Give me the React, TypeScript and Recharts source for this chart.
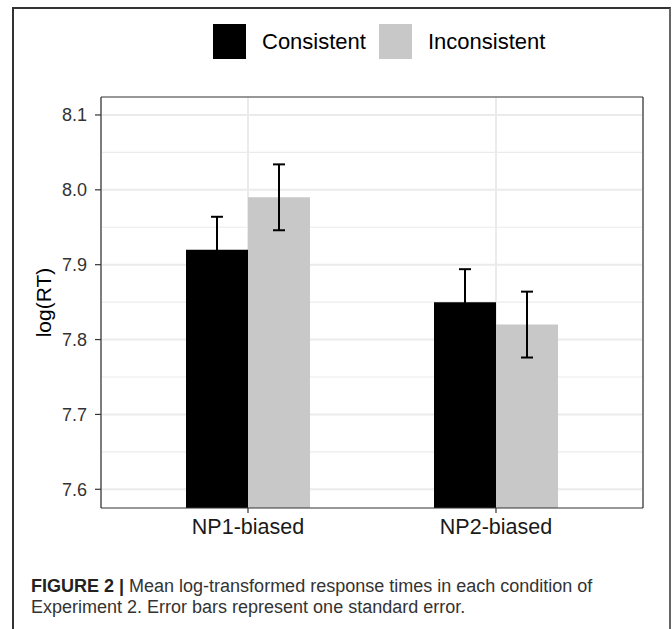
import React from 'react';
import { BarChart, Bar, XAxis, YAxis, CartesianGrid, ErrorBar, Legend } from 'recharts';

const conditions = ['NP1-biased', 'NP2-biased'];
const consistentMeans = [7.92, 7.85];
const inconsistentMeans = [7.99, 7.82];
const consistentSE = [0.044, 0.044];
const inconsistentSE = [0.044, 0.044];
const seriesNames = ['Consistent', 'Inconsistent'];
const seriesColors = ['#000000', '#C8C8C8'];
const yTicks = [7.6, 7.7, 7.8, 7.9, 8.0, 8.1];
const yMinor = [7.65, 7.75, 7.85, 7.95, 8.05];
const yDomain = [7.575, 8.124];
const yLabel = 'log(RT)';
const captionBold = 'FIGURE 2 |';
const captionLine1 = ' Mean log-transformed response times in each condition of';
const captionLine2 = 'Experiment 2. Error bars represent one standard error.';

const data = conditions.map((c, i) => ({
  condition: c,
  consistent: consistentMeans[i],
  inconsistent: inconsistentMeans[i],
  consistentErr: consistentSE[i],
  inconsistentErr: inconsistentSE[i],
}));

const FONT = "'Liberation Sans', Arial, Helvetica, sans-serif";

const LegendContent = (props: any) => {
  const payload = props.payload || [];
  return (
    <div style={{ height: 87, width: 672, position: 'relative', fontFamily: FONT }}>
      <div style={{ position: 'absolute', left: 213, top: 14, display: 'flex', alignItems: 'center' }}>
        {payload.map((p: any, i: number) => (
          <div key={i} style={{ display: 'flex', alignItems: 'center' }}>
            <div style={{ width: 33, height: 35, background: p.color, marginRight: 16 }} />
            <span style={{ fontSize: 22, color: '#000', marginRight: 13, lineHeight: '35px' }}>{p.value}</span>
          </div>
        ))}
      </div>
    </div>
  );
};

const YLabel = (props: any) => {
  const vb = props.viewBox || {};
  const cx = vb.x + 2;
  const cy = vb.y + vb.height / 2;
  return (
    <text
      x={cx}
      y={cy}
      transform={`rotate(-90, ${cx}, ${cy})`}
      textAnchor="middle"
      dominantBaseline="central"
      fontSize={21}
      fill="#000"
      fontFamily={FONT}
    >
      {yLabel}
    </text>
  );
};

export default function App() {
  return (
    <div style={{ position: 'absolute', left: 0, top: 0, width: 672, height: 629, background: '#fff', overflow: 'hidden' }}>
      <div
        style={{
          position: 'absolute',
          left: 12,
          top: 7,
          width: 655,
          height: 660,
          borderLeft: '2px solid #333',
          borderTop: '2px solid #333',
          borderRight: '2px solid #666',
        }}
      />
      <div style={{ position: 'absolute', left: 0, top: 0 }}>
        <BarChart
          width={672}
          height={629}
          data={data}
          margin={{ top: 9, right: 28, bottom: 81, left: 41 }}
          barCategoryGap={62}
          barGap={0}
          style={{ fontFamily: FONT }}
        >
          <CartesianGrid horizontalValues={yMinor} vertical={false} stroke="#EBEBEB" strokeWidth={1.2} />
          <CartesianGrid horizontalValues={yTicks} stroke="#EBEBEB" strokeWidth={2} />
          <Legend verticalAlign="top" align="left" content={<LegendContent />} wrapperStyle={{ left: 0, top: 10, width: 672 }} />
          <XAxis
            dataKey="condition"
            height={40}
            padding={{ left: 23, right: 23 }}
            tickSize={5}
            tickMargin={6}
            tick={{ fontSize: 21.5, fill: '#1a1a1a' }}
            tickLine={{ stroke: '#333', strokeWidth: 1.2 }}
            axisLine={{ stroke: '#333', strokeWidth: 1.2 }}
            interval={0}
          />
          <XAxis
            xAxisId="top"
            orientation="top"
            dataKey="condition"
            height={1}
            tick={false}
            tickLine={false}
            axisLine={{ stroke: '#333', strokeWidth: 1.2 }}
          />
          <YAxis
            type="number"
            domain={yDomain}
            allowDataOverflow
            ticks={yTicks}
            interval={0}
            width={60}
            tickSize={6}
            tickMargin={8}
            tickFormatter={(v: number) => v.toFixed(1)}
            tick={{ fontSize: 18, fill: '#333' }}
            tickLine={{ stroke: '#333', strokeWidth: 1.2 }}
            axisLine={{ stroke: '#333', strokeWidth: 1.2 }}
            label={<YLabel />}
          />
          <YAxis
            yAxisId="right"
            orientation="right"
            type="number"
            domain={[0, 1]}
            width={1}
            tick={false}
            tickLine={false}
            axisLine={{ stroke: '#333', strokeWidth: 1.2 }}
          />
          <Bar dataKey="consistent" name={seriesNames[0]} fill={seriesColors[0]} isAnimationActive={false}>
            <ErrorBar dataKey="consistentErr" width={6} stroke="#000" strokeWidth={2} direction="y" />
          </Bar>
          <Bar dataKey="inconsistent" name={seriesNames[1]} fill={seriesColors[1]} isAnimationActive={false}>
            <ErrorBar dataKey="inconsistentErr" width={6} stroke="#000" strokeWidth={2} direction="y" />
          </Bar>
        </BarChart>
      </div>
      <div
        style={{
          position: 'absolute',
          left: 31,
          top: 576,
          fontFamily: FONT,
          fontSize: 18,
          lineHeight: '20.5px',
          color: '#333',
          whiteSpace: 'pre',
        }}
      >
        <div>
          <span style={{ fontWeight: 'bold', color: '#222' }}>{captionBold}</span>
          {captionLine1}
        </div>
        <div>{captionLine2}</div>
      </div>
    </div>
  );
}
